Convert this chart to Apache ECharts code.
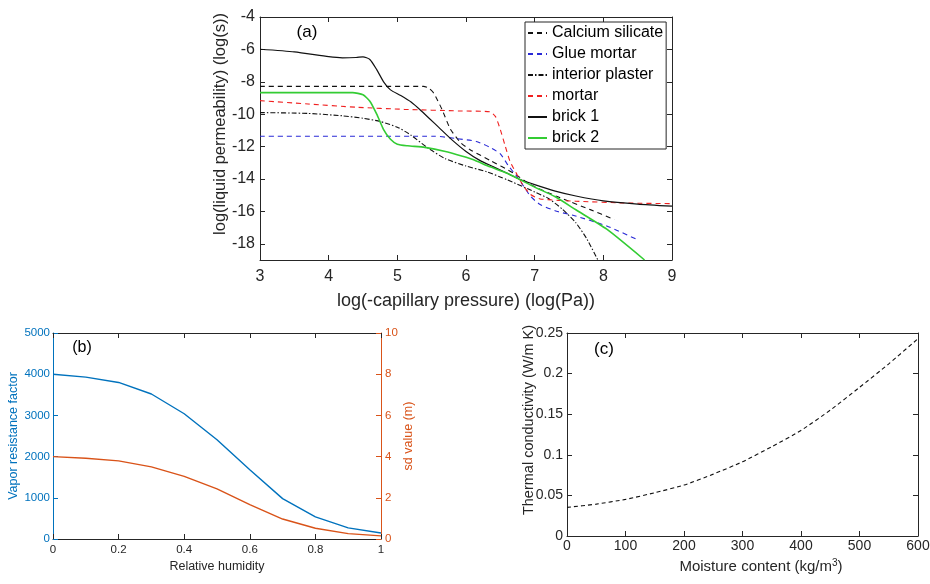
<!DOCTYPE html>
<html><head><meta charset="utf-8">
<script src="https://cdn.jsdelivr.net/npm/echarts@6/dist/echarts.min.js"></script>
<style>html,body{margin:0;padding:0;background:#fff}#c{width:930px;height:584px}</style>
</head><body><div id="c"></div><script>
// ---------- Panel (a): liquid permeability vs capillary pressure ----------
const seriesNamesA = ['Calcium silicate', 'Glue mortar', 'interior plaster', 'mortar', 'brick 1', 'brick 2'];
const calciumSilicate = [[3,-8.28],[5.38,-8.28],[5.46,-8.4],[5.53,-8.7],[5.65,-9.7],[5.77,-10.9],[5.92,-11.75],[6.06,-12.19],[6.35,-12.85],[6.69,-13.63],[6.94,-14.35],[7.32,-15.07],[7.81,-15.89],[8.16,-16.5]];
const glueMortar = [[3,-11.36],[5.55,-11.36],[5.85,-11.5],[6.15,-11.68],[6.35,-12.05],[6.5,-12.45],[6.62,-13.2],[6.74,-13.84],[6.84,-14.45],[6.94,-15.07],[7.08,-15.58],[7.32,-15.99],[7.57,-16.25],[8.05,-16.9],[8.5,-17.75]];
const interiorPlaster = [[3,-9.9],[3.7,-9.95],[4.2,-10.1],[4.5,-10.25],[4.75,-10.45],[5.0,-10.8],[5.2,-11.3],[5.45,-12.1],[5.7,-12.75],[6.0,-13.2],[6.3,-13.55],[6.6,-14.05],[7.0,-14.8],[7.2,-15.2],[7.4,-15.85],[7.6,-16.7],[7.76,-17.7],[7.92,-19.0]];
const mortar = [[3,-9.16],[3.7,-9.37],[4.4,-9.57],[5.1,-9.7],[5.9,-9.8],[6.35,-9.85],[6.43,-10.15],[6.5,-10.95],[6.57,-11.95],[6.64,-12.9],[6.74,-13.7],[6.84,-14.45],[6.94,-14.95],[7.08,-15.23],[7.6,-15.37],[8.3,-15.48],[9,-15.52]];
const brick1 = [[3,-5.99],[3.5,-6.15],[4,-6.45],[4.2,-6.52],[4.4,-6.5],[4.5,-6.46],[4.6,-6.62],[4.7,-7.25],[4.8,-8.0],[4.9,-8.5],[5.05,-8.85],[5.2,-9.25],[5.35,-9.8],[5.6,-10.8],[5.8,-11.6],[6.0,-12.3],[6.2,-12.85],[6.4,-13.25],[6.6,-13.65],[6.8,-14.05],[7.0,-14.35],[7.3,-14.75],[7.6,-15.05],[8.0,-15.35],[8.5,-15.55],[9,-15.68]];
const brick2 = [[3,-8.67],[4.35,-8.67],[4.5,-8.8],[4.6,-9.2],[4.7,-10.0],[4.8,-10.95],[4.9,-11.55],[5.0,-11.85],[5.15,-11.95],[5.4,-12.05],[5.7,-12.3],[5.95,-12.6],[6.1,-12.8],[6.35,-13.25],[6.6,-13.65],[7.0,-14.5],[7.3,-15.1],[7.6,-15.9],[8.05,-17.1],[8.6,-19.0]];
const yTicksA = [-18,-16,-14,-12,-10,-8,-6,-4];

// ---------- Panel (b): vapour resistance vs relative humidity ----------
const relHumidity = [0,0.1,0.2,0.3,0.4,0.5,0.6,0.7,0.8,0.9,1.0];
const vaporResistance = [4000,3930,3800,3520,3040,2410,1680,980,535,270,145];
const sdValue = [4.0,3.92,3.79,3.5,3.04,2.43,1.67,0.97,0.52,0.26,0.15];

// ---------- Panel (c): thermal conductivity vs moisture content ----------
const moisture = [0,50,100,150,200,250,300,350,400,450,500,550,600];
const conductivity = [0.0352,0.0393,0.0451,0.0533,0.0627,0.0762,0.0914,0.110,0.130,0.155,0.183,0.212,0.243];

const FONT = '"Liberation Sans", Arial, sans-serif';
const DARK = '#262626';
const BLUE = '#0072BD';
const ORANGE = '#D95319';

function zip(xs, ys) { return xs.map((x, i) => [x, ys[i]]); }
const plain = v => String(v);

function axisCommon(color, showLabel, fontSize, margin) {
  return {
    type: 'value',
    axisLine: { show: true, onZero: false, lineStyle: { color: color, width: 1 } },
    axisTick: { show: true, inside: true, length: 5, lineStyle: { color: color, width: 1 } },
    axisLabel: { show: showLabel, color: color, fontSize: fontSize, fontFamily: FONT, margin: margin, formatter: plain },
    splitLine: { show: false },
    minorTick: { show: false }
  };
}

const xAxes = [
  Object.assign(axisCommon(DARK, true, 16, 9), { gridIndex: 0, position: 'bottom', min: 3, max: 9, interval: 1,
    name: 'log(-capillary pressure) (log(Pa))', nameLocation: 'middle', nameGap: 32,
    nameTextStyle: { color: DARK, fontSize: 18, fontFamily: FONT } }),
  Object.assign(axisCommon(DARK, false, 16, 9), { gridIndex: 0, position: 'top', min: 3, max: 9, interval: 1 }),
  Object.assign(axisCommon(DARK, true, 11.5, 5), { gridIndex: 1, position: 'bottom', min: 0, max: 1, interval: 0.2,
    name: 'Relative humidity', nameLocation: 'middle', nameGap: 21,
    nameTextStyle: { color: DARK, fontSize: 12.5, fontFamily: FONT } }),
  Object.assign(axisCommon(DARK, false, 11, 5), { gridIndex: 1, position: 'top', min: 0, max: 1, interval: 0.2 }),
  Object.assign(axisCommon(DARK, true, 14, 3), { gridIndex: 2, position: 'bottom', min: 0, max: 600, interval: 100 }),
  Object.assign(axisCommon(DARK, false, 14, 3), { gridIndex: 2, position: 'top', min: 0, max: 600, interval: 100 })
];

const yA = axisCommon(DARK, true, 16, 5);
yA.axisTick.customValues = yTicksA;
yA.axisLabel.customValues = yTicksA;
const yA2 = axisCommon(DARK, false, 16, 5);
yA2.axisTick.customValues = yTicksA;

const yAxes = [
  Object.assign(yA, { gridIndex: 0, position: 'left', min: -19, max: -4 }),
  Object.assign(yA2, { gridIndex: 0, position: 'right', min: -19, max: -4 }),
  Object.assign(axisCommon(BLUE, true, 11.5, 3), { gridIndex: 1, position: 'left', min: 0, max: 5000, interval: 1000,
    name: 'Vapor resistance factor', nameLocation: 'middle', nameGap: 32,
    nameTextStyle: { color: BLUE, fontSize: 12.5, fontFamily: FONT } }),
  Object.assign(axisCommon(ORANGE, true, 11.5, 4), { gridIndex: 1, position: 'right', min: 0, max: 10, interval: 2,
    name: 'sd value (m)', nameLocation: 'middle', nameGap: 20,
    nameTextStyle: { color: ORANGE, fontSize: 12.5, fontFamily: FONT } }),
  Object.assign(axisCommon(DARK, true, 14, 4), { gridIndex: 2, position: 'left', min: 0, max: 0.25, interval: 0.05 }),
  Object.assign(axisCommon(DARK, false, 14, 4), { gridIndex: 2, position: 'right', min: 0, max: 0.25, interval: 0.05 })
];

function lineA(name, data, color, type, width) {
  return { name: name, type: 'line', xAxisIndex: 0, yAxisIndex: 0, data: data,
    symbol: 'none', showSymbol: false, smooth: 0.2, clip: true,
    lineStyle: { color: color, type: type, width: width }, itemStyle: { color: color } };
}

const option = {
  animation: false,
  backgroundColor: '#fff',
  textStyle: { fontFamily: FONT },
  grid: [
    { left: 260, top: 17, width: 412, height: 243, outerBoundsMode: 'none', containLabel: false },
    { left: 53, top: 333, width: 328, height: 206, outerBoundsMode: 'none', containLabel: false },
    { left: 567, top: 333, width: 351, height: 203, outerBoundsMode: 'none', containLabel: false }
  ],
  xAxis: xAxes,
  yAxis: yAxes,
  legend: {
    data: seriesNamesA,
    orient: 'vertical', left: 525, top: 22,
    padding: [3, 3, 3, 2], itemGap: 5, itemWidth: 19, itemHeight: 10,
    backgroundColor: '#fff', borderColor: DARK, borderWidth: 1, borderRadius: 0,
    itemStyle: { opacity: 0 },
    textStyle: { fontSize: 16, color: '#000', fontFamily: FONT, lineHeight: 16 },
    z: 10
  },
  graphic: [
    { type: 'text', x: 307, y: 32, style: { text: '(a)', fontSize: 17, fontFamily: FONT, fill: '#000', align: 'center', verticalAlign: 'middle' } },
    { type: 'text', x: 82, y: 348, style: { text: '(b)', fontSize: 16, fontFamily: FONT, fill: '#000', align: 'center', verticalAlign: 'middle' } },
    { type: 'text', x: 604, y: 349, style: { text: '(c)', fontSize: 17, fontFamily: FONT, fill: '#000', align: 'center', verticalAlign: 'middle' } },
    { type: 'text', x: 220, y: 124, rotation: Math.PI / 2, style: { text: 'log(liquid permeability) (log(s))', fontSize: 16.5, fontFamily: FONT, fill: DARK, align: 'center', verticalAlign: 'middle' } },
    { type: 'text', x: 529, y: 420, rotation: Math.PI / 2, style: { text: 'Thermal conductivity (W/m K)', fontSize: 14.5, fontFamily: FONT, fill: DARK, align: 'center', verticalAlign: 'middle' } },
    { type: 'text', x: 761, y: 567, style: { text: '{a|Moisture content (kg/m}{s|3}{a|)}', fill: DARK, align: 'center', verticalAlign: 'middle',
        rich: { a: { fontSize: 15, fontFamily: FONT, fill: DARK, lineHeight: 18 }, s: { fontSize: 10, fontFamily: FONT, fill: DARK, verticalAlign: 'top', lineHeight: 11 } } } }
  ],
  series: [
    lineA(seriesNamesA[0], calciumSilicate, '#111', [5, 4], 1.1),
    lineA(seriesNamesA[1], glueMortar, '#2a2ad6', [5, 4], 1.1),
    lineA(seriesNamesA[2], interiorPlaster, '#111', [5, 2, 1.5, 2], 1.1),
    lineA(seriesNamesA[3], mortar, '#f02020', [5, 4], 1.1),
    lineA(seriesNamesA[4], brick1, '#111', 'solid', 1.2),
    lineA(seriesNamesA[5], brick2, '#33cc33', 'solid', 1.6),
    { name: 'Vapor resistance factor', type: 'line', xAxisIndex: 2, yAxisIndex: 2, data: zip(relHumidity, vaporResistance),
      symbol: 'none', showSymbol: false, lineStyle: { color: BLUE, width: 1.4 }, itemStyle: { color: BLUE } },
    { name: 'sd value (m)', type: 'line', xAxisIndex: 2, yAxisIndex: 3, data: zip(relHumidity, sdValue),
      symbol: 'none', showSymbol: false, lineStyle: { color: ORANGE, width: 1.4 }, itemStyle: { color: ORANGE } },
    { name: 'Thermal conductivity', type: 'line', xAxisIndex: 4, yAxisIndex: 4, data: zip(moisture, conductivity),
      symbol: 'none', showSymbol: false, smooth: 0.2, lineStyle: { color: '#111', width: 1.1, type: [4, 3] }, itemStyle: { color: '#111' } }
  ]
};

const chart = echarts.init(document.getElementById('c'), null, { renderer: 'canvas' });
chart.setOption(option);
</script></body></html>
